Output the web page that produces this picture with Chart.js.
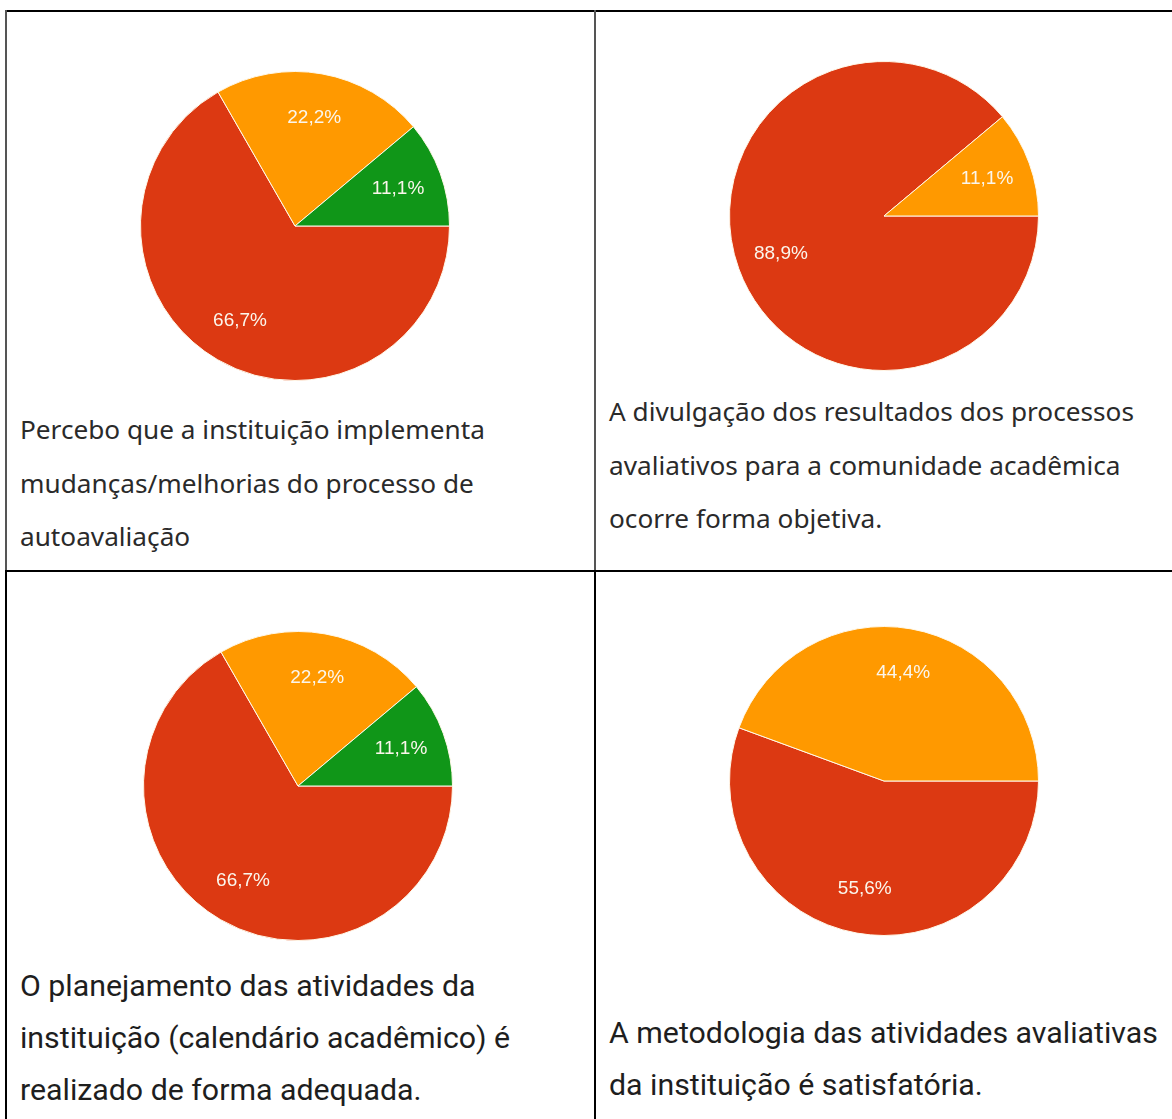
<!DOCTYPE html>
<html>
<head>
<meta charset="utf-8">
<script src="https://cdn.jsdelivr.net/npm/chart.js@4"></script>
<style>
  body { margin: 0; background: #fff; }
  #page { position: relative; width: 1172px; height: 1119px; overflow: hidden; background: #fff; }
  .line { position: absolute; }
  .pie { position: absolute; width: 310px; height: 310px; }
  .caption { position: absolute; white-space: nowrap; }
  .top { font-family: "Noto Sans", "Open Sans", sans-serif; font-size: 26.2px; line-height: 53.5px; color: #2a2a2a; }
  .bottom { font-family: Roboto, sans-serif; font-size: 30.3px; line-height: 52px; color: #1e1e1e; }
</style>
</head>
<body>
<div id="page">
  <!-- table borders -->
  <div class="line" style="left:5px;top:10px;width:1167px;height:2px;background:#000"></div>
  <div class="line" style="left:5px;top:10px;width:2px;height:561px;background:#555"></div>
  <div class="line" style="left:594px;top:10px;width:2px;height:561px;background:#555"></div>
  <div class="line" style="left:5px;top:570px;width:1167px;height:2px;background:#000"></div>
  <div class="line" style="left:5px;top:570px;width:2px;height:549px;background:#000"></div>
  <div class="line" style="left:594px;top:570px;width:2px;height:549px;background:#000"></div>

  <div class="pie" style="left:140px;top:71px"><canvas id="pie1"></canvas></div>
  <div class="pie" style="left:729px;top:61px"><canvas id="pie2"></canvas></div>
  <div class="pie" style="left:143px;top:631px"><canvas id="pie3"></canvas></div>
  <div class="pie" style="left:729px;top:626px"><canvas id="pie4"></canvas></div>

  <div class="caption top" style="left:20px;top:403px">Percebo que a instituição implementa<br>mudanças/melhorias do processo de<br>autoavaliação</div>
  <div class="caption top" style="left:609px;top:385px">A divulgação dos resultados dos processos<br>avaliativos para a comunidade acadêmica<br>ocorre forma objetiva.</div>
  <div class="caption bottom" style="left:20px;top:960px">O planejamento das atividades da<br>instituição (calendário acadêmico) é<br>realizado de forma adequada.</div>
  <div class="caption bottom" style="left:609px;top:1007px">A metodologia das atividades avaliativas<br>da instituição é satisfatória.</div>
</div>

<script>
const answers = ["Opção 1", "Opção 2", "Opção 3"];
const sliceColors = ["#DC3912", "#FF9900", "#109618"];

// percentages, drawn clockwise from 3 o'clock
const implementaValues = [66.7, 22.2, 11.1];
const divulgacaoValues = [88.9, 11.1];
const planejamentoValues = [66.7, 22.2, 11.1];
const metodologiaValues = [55.6, 44.4];

/* percent labels inside the slices, Google Forms style */
const sliceLabels = {
  id: "sliceLabels",
  afterDatasetsDraw(chart) {
    const ctx = chart.ctx;
    const meta = chart.getDatasetMeta(0);
    const values = chart.data.datasets[0].data;
    ctx.save();
    ctx.font = "19px 'Liberation Sans', Arial, sans-serif";
    ctx.fillStyle = "#fbf6ec";
    ctx.textAlign = "center";
    ctx.textBaseline = "middle";
    meta.data.forEach((arc, i) => {
      const p = arc.getProps(["x", "y", "startAngle", "endAngle", "outerRadius"], true);
      const mid = (p.startAngle + p.endAngle) / 2;
      const r = p.outerRadius * 0.71;
      const txt = values[i].toFixed(1).replace(".", ",") + "%";
      ctx.fillText(txt, p.x + Math.cos(mid) * r, p.y + Math.sin(mid) * r);
    });
    ctx.restore();
  },
};

function makePie(id, values) {
  return new Chart(document.getElementById(id).getContext("2d"), {
    type: "pie",
    data: {
      labels: answers.slice(0, values.length),
      datasets: [
        {
          data: values,
          backgroundColor: sliceColors.slice(0, values.length),
          borderColor: "#fff8e8",
          borderWidth: 1,
        },
      ],
    },
    options: {
      responsive: true,
      maintainAspectRatio: false,
      animation: false,
      rotation: 90,
      layout: { padding: 0 },
      plugins: {
        legend: { display: false },
        tooltip: { enabled: false },
      },
    },
    plugins: [sliceLabels],
  });
}

makePie("pie1", implementaValues);
makePie("pie2", divulgacaoValues);
makePie("pie3", planejamentoValues);
makePie("pie4", metodologiaValues);
</script>
</body>
</html>
